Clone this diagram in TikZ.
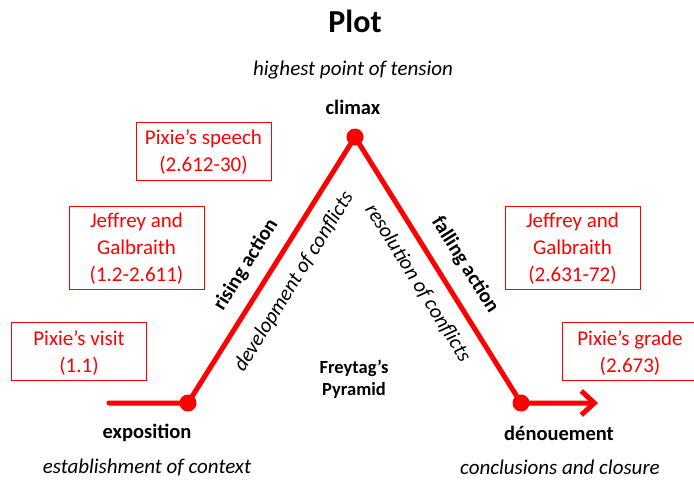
\documentclass[tikz,border=0pt]{standalone}
\usepackage{fontspec}
\setmainfont{Carlito}
\usetikzlibrary{arrows.meta,positioning,calc}

\tikzset{
	plotline/.style = {red, line width=5pt, line cap=round, line join=round},
	turn/.style = {circle, fill=red, inner sep=0pt, minimum size=17pt},
	stage/.style = {font=\fontsize{20.5}{24}\selectfont\bfseries},
	gloss/.style = {font=\fontsize{21}{25}\selectfont\itshape},
	event/.style = {draw=red, line width=0.8pt, text=red, align=center,
		font=\fontsize{21}{27}\selectfont, minimum width=135pt, inner sep=0pt,
		text depth=-6pt},
}

\begin{document}
\begin{tikzpicture}[x=1pt, y=-1pt]
		\useasboundingbox (0,0) rectangle (694,482);
		
		\coordinate (start) at (109,403);
		\node[turn] (expo) at (188,403) {};
		\node[turn] (climax) at (355,137) {};
		\node[turn] (denoue) at (521,403) {};
		\coordinate (finish) at (598,403);
		
		\draw[plotline, -{Straight Barb[length=13pt, width=24pt]}] (start) -- (expo.center) -- (climax.center) -- (denoue.center) -- (finish);
		
		\node[font=\fontsize{32}{36}\selectfont\bfseries] (plot) at (355,21) {Plot};
		\node[gloss] (tension) at (353,70) {highest point of tension};
		\node[stage] (climaxtext) at (353,107) {climax};
		\node[stage] (expotext) at (147,433) {exposition};
		\node[gloss] (context) at (147,467) {establishment of context};
		\node[stage] (denouetext) at (559,433) {dénouement};
		\node[gloss] (closure) at (560,467) {conclusions and closure};
		\node[font=\fontsize{18.5}{22}\selectfont\bfseries, align=center] (freytag) at (354,379) {Freytag’s\\Pyramid};
		
		\node[stage, rotate=58] (rising) at (246,265) {rising action};
		\node[gloss, rotate=58] (develop) at (294,282) {development of conflicts};
		\node[stage, rotate=-58] (falling) at (465,265) {falling action};
		\node[gloss, rotate=-58] (resolve) at (418,283) {resolution of conflicts};
		
		\node[event, minimum height=58pt] (speech) at (203.5,151) {Pixie’s speech\\(2.612-30)};
		\node[event, minimum height=83pt] (jeffleft) at (136.5,247.5) {Jeffrey and\\Galbraith\\(1.2-2.611)};
		\node[event, minimum height=58pt] (visit) at (79,351.5) {Pixie’s visit\\(1.1)};
		\node[event, minimum height=83pt] (jeffright) at (572.5,247.5) {Jeffrey and\\Galbraith\\(2.631-72)};
		\node[event, minimum height=58pt] (grade) at (630,351.5) {Pixie’s grade\\(2.673)};
	\end{tikzpicture}
\end{document}
